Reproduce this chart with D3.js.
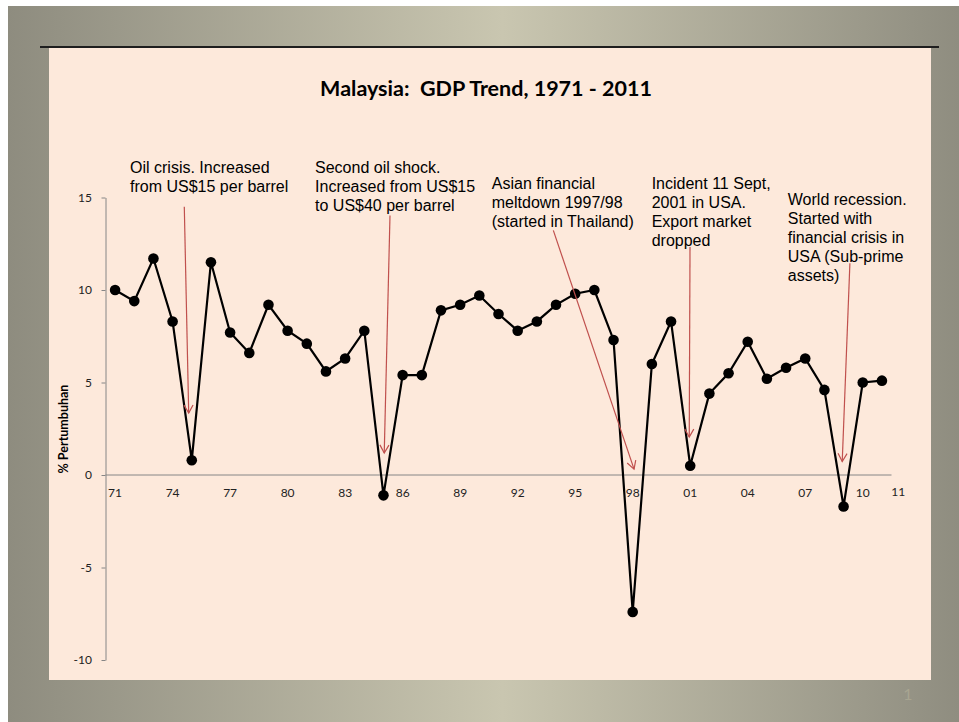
<!DOCTYPE html>
<html>
<head>
<meta charset="utf-8">
<script src="https://cdn.jsdelivr.net/npm/d3@7"></script>
<style>
  body { margin: 0; background: #ffffff; }
  svg { display: block; }
</style>
</head>
<body>
<div class="display"></div>
<script>
const WIDTH = 959;
const HEIGHT = 722;

const TITLE = 'Malaysia:  GDP Trend, 1971 - 2011';
const Y_AXIS = '% Pertumbuhan';

const YEARS = [1971, 1972, 1973, 1974, 1975, 1976, 1977, 1978, 1979, 1980,
  1981, 1982, 1983, 1984, 1985, 1986, 1987, 1988, 1989, 1990,
  1991, 1992, 1993, 1994, 1995, 1996, 1997, 1998, 1999, 2000,
  2001, 2002, 2003, 2004, 2005, 2006, 2007, 2008, 2009, 2010, 2011];

const GROWTH = [10.0, 9.4, 11.7, 8.3, 0.8, 11.5, 7.7, 6.6, 9.2, 7.8,
  7.1, 5.6, 6.3, 7.8, -1.1, 5.4, 5.4, 8.9, 9.2, 9.7,
  8.7, 7.8, 8.3, 9.2, 9.8, 10.0, 7.3, -7.4, 6.0, 8.3,
  0.5, 4.4, 5.5, 7.2, 5.2, 5.8, 6.3, 4.6, -1.7, 5.0, 5.1];

const X_TICK_YEARS = [1971, 1974, 1977, 1980, 1983, 1986, 1989, 1992, 1995, 1998, 2001, 2004, 2007, 2010];
const X_TICK_LABELS = ['71', '74', '77', '80', '83', '86', '89', '92', '95', '98', '01', '04', '07', '10'];
const Y_TICKS = [-10, -5, 0, 5, 10, 15];

// annotation texts, anchored in data units (year, value)
const NOTE_TEXTS = [
  ['Oil crisis. Increased', 'from US$15 per barrel'],
  ['Second oil shock.', 'Increased from US$15', 'to US$40 per barrel'],
  ['Asian financial', 'meltdown 1997/98', '(started in Thailand)'],
  ['Incident 11 Sept,', '2001 in USA.', 'Export market', 'dropped'],
  ['World recession.', 'Started with', 'financial crisis in', 'USA (Sub-prime', 'assets)']
];
const NOTE_YEAR = [1971.78, 1981.43, 1990.65, 1998.99, 2006.09];
const NOTE_VALUE = [16.67, 16.67, 15.8, 15.78, 14.92];
const ARROW_FROM = [[1974.61, 14.5], [1985.34, 14.03], [1993.86, 13.22], [2000.99, 12.32], [2009.33, 11.45]];
const ARROW_TO = [[1974.84, 3.35], [1985.04, 1.19], [1998.07, 0.32], [2000.95, 2.05], [2008.93, 0.73]];

const CALIBRI = 'Lato, "Open Sans", sans-serif';
const ARIAL = '"Liberation Sans", Arial, sans-serif';
const RED = '#c0504d';

let svg;

function setupSvg() {
  svg = d3.select('.display')
    .append('svg')
    .attr('width', WIDTH)
    .attr('height', HEIGHT);

  const defs = svg.append('defs');
  const grad = defs.append('linearGradient')
    .attr('id', 'slide-bg')
    .attr('x1', 0).attr('x2', 1).attr('y1', 0).attr('y2', 0);
  grad.append('stop').attr('offset', 0).attr('stop-color', '#8e8c7f');
  grad.append('stop').attr('offset', 0.52).attr('stop-color', '#c9c6b0');
  grad.append('stop').attr('offset', 1).attr('stop-color', '#8f8d80');

  // open V arrowhead, path points along +x
  defs.append('marker')
    .attr('id', 'arrow')
    .attr('viewBox', '-10 -6 12 12')
    .attr('refX', 0)
    .attr('refY', 0)
    .attr('markerWidth', 12)
    .attr('markerHeight', 12)
    .attr('markerUnits', 'userSpaceOnUse')
    .attr('orient', 'auto')
    .append('path')
    .attr('d', 'M-8,-4.5 L0,0 L-8,4.5')
    .attr('fill', 'none')
    .attr('stroke', RED)
    .attr('stroke-width', 1.2);

  // slide background
  svg.append('rect')
    .attr('x', 8).attr('y', 6)
    .attr('width', WIDTH - 8).attr('height', HEIGHT - 6)
    .attr('fill', 'url(#slide-bg)');

  // content panel
  svg.append('rect')
    .attr('x', 49).attr('y', 48)
    .attr('width', 882).attr('height', 632)
    .attr('fill', '#fde9db');

  svg.append('line')
    .attr('x1', 40).attr('x2', 939)
    .attr('y1', 47).attr('y2', 47)
    .attr('stroke', '#1e1e1e')
    .attr('stroke-width', 2);

  svg.append('text')
    .attr('x', 908)
    .attr('y', 700)
    .attr('text-anchor', 'middle')
    .style('font-family', CALIBRI)
    .style('font-size', '16px')
    .attr('fill', '#a8a591')
    .text('1');

  svg.append('text')
    .attr('x', 486)
    .attr('y', 96)
    .attr('text-anchor', 'middle')
    .style('font-family', CALIBRI)
    .style('font-weight', 'bold')
    .style('font-size', '21.5px')
    .style('white-space', 'pre')
    .attr('fill', '#000')
    .text(TITLE);

  svg.append('text')
    .attr('transform', 'translate(68, 429) rotate(-90)')
    .attr('text-anchor', 'middle')
    .style('font-family', CALIBRI)
    .style('font-weight', 'bold')
    .style('font-size', '12.5px')
    .attr('fill', '#000')
    .text(Y_AXIS);
}

function draw() {
  const x = d3.scalePoint()
    .domain(YEARS)
    .range([105.5, 891.5])
    .padding(0.5);
  const step = x.step();
  const xv = yr => x(YEARS[0]) + (yr - YEARS[0]) * step;

  const y = d3.scaleLinear()
    .domain([-10, 15])
    .range([660, 197.5]);

  // y axis
  const yAxis = svg.append('g')
    .attr('transform', 'translate(105.5, 0)')
    .call(d3.axisLeft(y)
      .tickValues(Y_TICKS)
      .tickFormat(d => String(d))
      .tickSize(4)
      .tickSizeOuter(0)
      .tickPadding(9.5));
  yAxis.select('.domain').attr('stroke', '#868686');
  yAxis.selectAll('.tick line').attr('stroke', '#868686');
  yAxis.selectAll('.tick text')
    .style('font-family', CALIBRI)
    .style('font-size', '12px')
    .attr('fill', '#222');

  // x axis line at zero
  svg.append('line')
    .attr('x1', x.range()[0]).attr('x2', x.range()[1])
    .attr('y1', y(0)).attr('y2', y(0))
    .attr('stroke', '#868686')
    .attr('stroke-width', 1);

  svg.selectAll('.x-label')
    .data(X_TICK_YEARS)
    .enter()
    .append('text')
    .attr('class', 'x-label')
    .attr('x', d => x(d))
    .attr('y', y(0) + 22)
    .attr('text-anchor', 'middle')
    .style('font-family', CALIBRI)
    .style('font-size', '12px')
    .attr('fill', '#222')
    .text((d, i) => X_TICK_LABELS[i]);

  // stray "11" label beyond the last category
  svg.append('text')
    .attr('x', xv(2011.85))
    .attr('y', y(0) + 21)
    .attr('text-anchor', 'middle')
    .style('font-family', CALIBRI)
    .style('font-size', '12px')
    .attr('fill', '#222')
    .text('11');

  // series line
  const line = d3.line()
    .x((d, i) => x(YEARS[i]))
    .y(d => y(d));

  svg.append('path')
    .datum(GROWTH)
    .attr('d', line)
    .attr('fill', 'none')
    .attr('stroke', '#000')
    .attr('stroke-width', 2.2)
    .attr('stroke-linejoin', 'miter');

  svg.selectAll('.point')
    .data(GROWTH)
    .enter()
    .append('circle')
    .attr('class', 'point')
    .attr('cx', (d, i) => x(YEARS[i]))
    .attr('cy', d => y(d))
    .attr('r', 5.3)
    .attr('fill', '#000');

  // annotations
  for (let i = 0; i < NOTE_TEXTS.length; i++) {
    const t = svg.append('text')
      .attr('x', xv(NOTE_YEAR[i]))
      .attr('y', y(NOTE_VALUE[i]))
      .attr('dominant-baseline', 'central')
      .style('font-family', ARIAL)
      .style('font-size', '16px')
      .attr('fill', '#000');
    NOTE_TEXTS[i].forEach((s, j) => {
      t.append('tspan')
        .attr('x', xv(NOTE_YEAR[i]))
        .attr('y', y(NOTE_VALUE[i]) + j * 19)
        .text(s);
    });

    svg.append('line')
      .attr('x1', xv(ARROW_FROM[i][0])).attr('y1', y(ARROW_FROM[i][1]))
      .attr('x2', xv(ARROW_TO[i][0])).attr('y2', y(ARROW_TO[i][1]))
      .attr('stroke', RED)
      .attr('stroke-width', 1.2)
      .attr('marker-end', 'url(#arrow)');
  }
}

setupSvg();
draw();
</script>
</body>
</html>
